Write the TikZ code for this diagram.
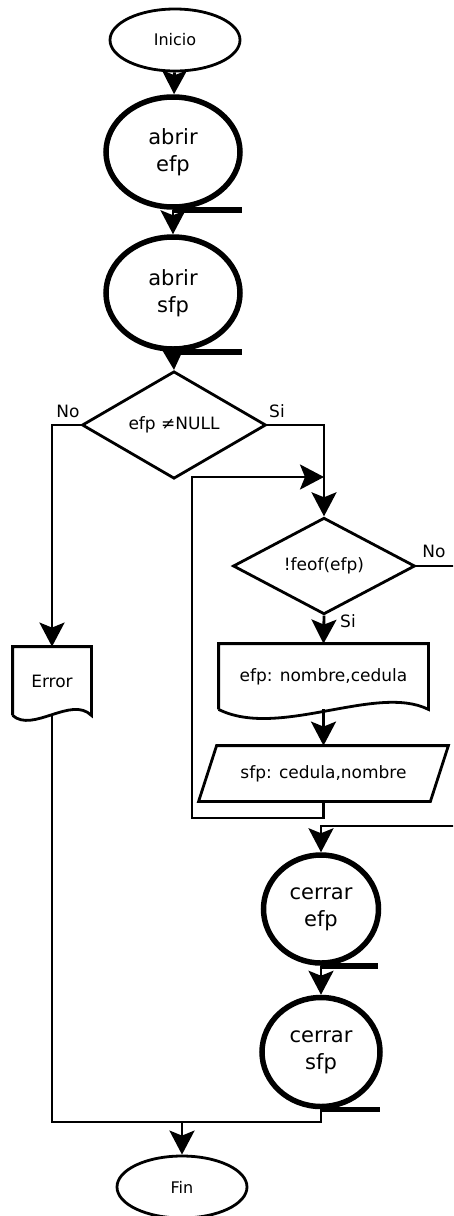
\documentclass[tikz,border=0pt]{standalone}
\usepackage{fontspec}
\setmainfont{DejaVu Sans}
\usetikzlibrary{shapes.geometric,arrows.meta,calc}
\begin{document}
\begin{tikzpicture}[x=1pt,y=-1pt,
  line width=2.8pt,
  lab/.style={inner sep=0pt,font=\fontsize{17}{20}\selectfont},
  term/.style={ellipse,draw,line width=2.8pt,minimum width=130pt,minimum height=62pt,inner sep=0pt,font=\fontsize{16}{19}\selectfont},
  tape/.style={ellipse,draw,line width=5.5pt,inner sep=0pt,align=center,font=\fontsize{21}{27}\selectfont},
  tail/.style={line width=5.5pt},
  dec/.style={diamond,draw,inner sep=0pt,font=\fontsize{17}{20}\selectfont},
  box/.style={draw=none,inner sep=0pt,font=\fontsize{17}{20}\selectfont},
  arr/.style={-{Stealth[length=24pt,width=25pt,inset=5pt]}}
]
\useasboundingbox (0,0) rectangle (453,1216);
\fill[white] (0,0) rectangle (453,1216);
\clip (0,0) rectangle (453,1216);

% nodes
\node[term] (ini) at (175,40) {Inicio};
\node[tape,minimum width=134pt,minimum height=110pt] (ae) at (173,152) {abrir\\efp};
\node[tape,minimum width=134pt,minimum height=112pt] (as) at (173,293) {abrir\\sfp};
\node[dec,minimum width=184pt,minimum height=94pt] (d1) at (174,425) {efp ≠NULL};
\node[dec,minimum width=182pt,minimum height=92pt] (d2) at (324,566) {!feof(efp)};
\node[box,minimum width=207pt,minimum height=63pt] (rd) at (323.5,676.5) {efp: nombre,cedula};
\node[box,minimum width=229pt,minimum height=53pt] (wr) at (323.5,773.5) {sfp: cedula,nombre};
\node[box,minimum width=76pt,minimum height=66pt] (err) at (52,681) {Error};
\node[tape,minimum width=115pt,minimum height=108pt] (ce) at (321,909) {cerrar\\efp};
\node[tape,minimum width=118pt,minimum height=109pt] (cs) at (321,1052) {cerrar\\sfp};
\node[term] (fin) at (182,1187) {Fin};

% tape tails
\draw[tail] (ae.south) -- ++(69,0);
\draw[tail] (as.south) -- ++(69,0);
\draw[tail] (ce.south) -- ++(57,0);
\draw[tail] (cs.south) -- ++(59,0);

% document shapes
\draw (rd.south west) -- (rd.north west) -- (rd.north east) -- (rd.south east)
  .. controls +(-52,-26) and +(60,30) .. (rd.south west);
\draw (err.south west) -- (err.north west) -- (err.north east) -- (err.south east)
  .. controls +(-20,-20) and +(20,18) .. (err.south west);

% parallelogram
\draw ($(wr.north west)+(9,0)$) -- ($(wr.north east)+(9,0)$)
  -- ($(wr.south east)+(-9,0)$) -- ($(wr.south west)+(-9,0)$) -- cycle;

% labels
\node[lab] (no1) at (68,411) {No};
\node[lab] (si1) at (277,411) {Si};
\node[lab] (no2) at (434,551) {No};
\node[lab] (si2) at (348,621) {Si};

% helper coordinates
\coordinate (j1) at (324,477);
\coordinate (lb) at (192,818);
\coordinate (r1) at (462,566);
\coordinate (r2) at (462,826);
\coordinate (m) at (182,1122);

% connectors
\draw[arr] (ini) -- (ae);
\draw[arr] (ae.south) -- (as.north);
\draw[arr] (as.south) -- (d1.north);
\draw[arr] (d1.west) -| (err.north);
\draw[arr] (d1.east) -| (d2.north);
\draw[arr] (wr.south) |- (lb) |- (j1);
\draw[arr] (d2.south) -- (rd.north);
\draw[arr] (rd.south) -- (wr.north);
\draw[arr] (d2.east) -- (r1) -- (r2) -| (ce.north);
\draw[arr] (ce.south) -- (cs.north);
\draw (err.south) |- (m);
\draw (cs.south) |- (m);
\draw[arr] (m) -- (fin.north);
\end{tikzpicture}
\end{document}
